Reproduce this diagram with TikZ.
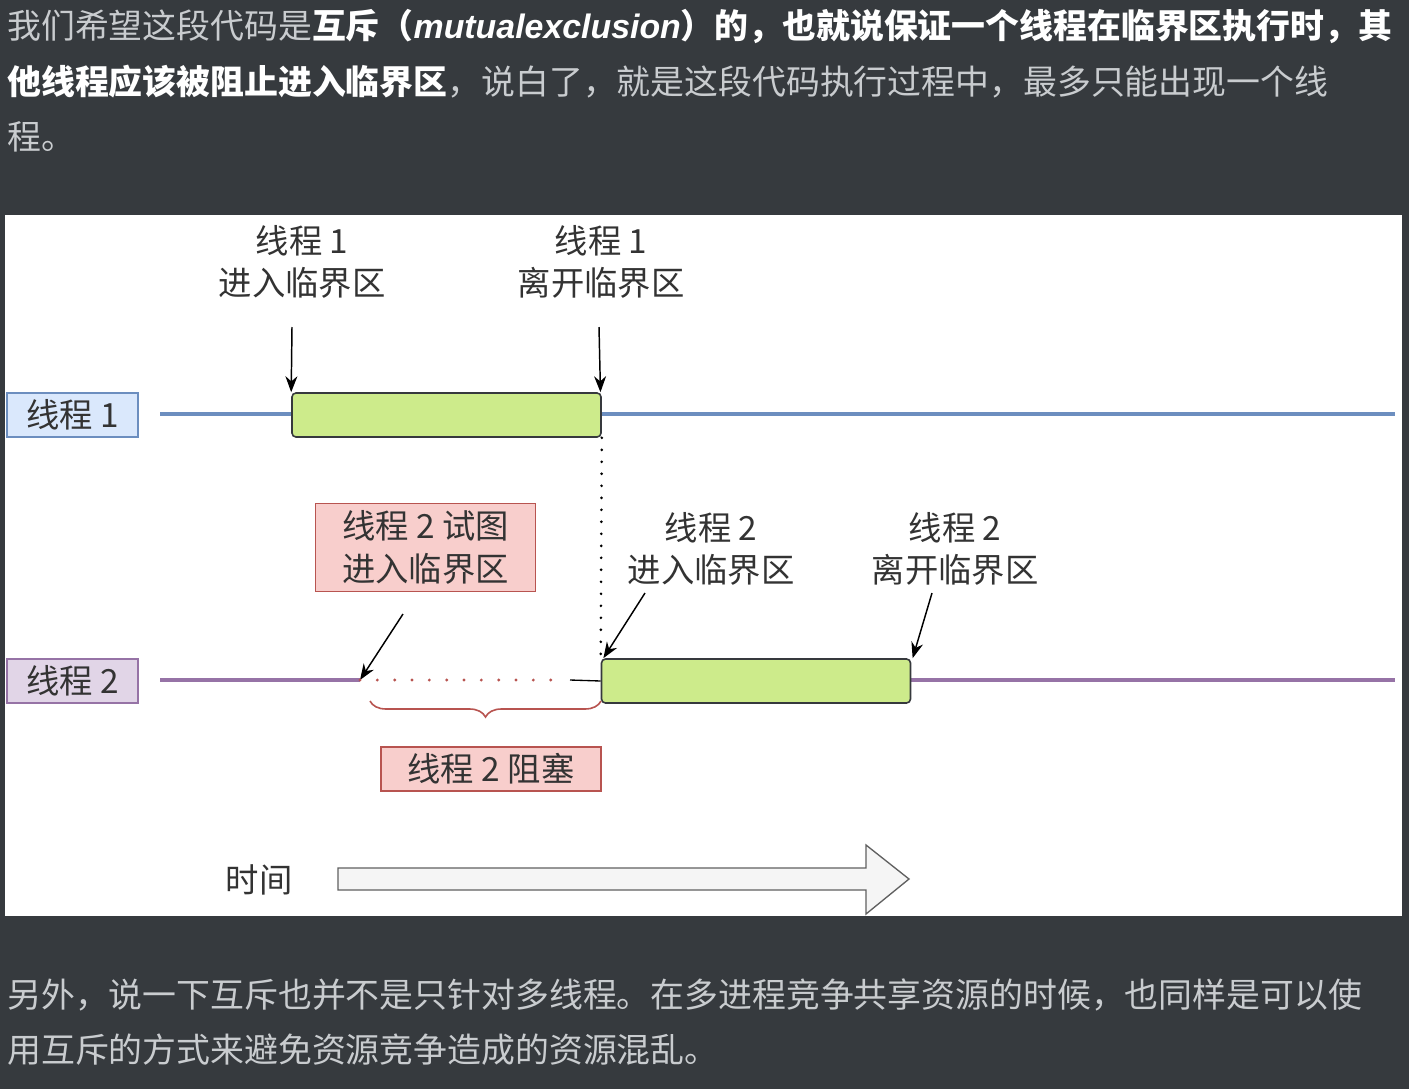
\documentclass[tikz,border=0pt]{standalone}
\usepackage{fontspec}
\setmainfont{Liberation Sans}
\newfontfamily\cjk{Noto Sans CJK SC}
\usetikzlibrary{arrows.meta,decorations.pathreplacing,shapes.arrows}
\definecolor{bgdark}{HTML}{363A3E}
\definecolor{ptext}{HTML}{C9CCCF}
\definecolor{bluef}{HTML}{DAE8FC}\definecolor{blued}{HTML}{6C8EBF}
\definecolor{purf}{HTML}{E1D5E7}\definecolor{purd}{HTML}{9673A6}
\definecolor{greenf}{HTML}{CDEB8B}\definecolor{greend}{HTML}{36393D}
\definecolor{redf}{HTML}{F8CECC}\definecolor{redd}{HTML}{B85450}
\definecolor{dtext}{HTML}{333333}
\tikzset{
 para/.style={anchor=west,inner sep=0pt,text=ptext,font=\cjk\fontsize{25.4}{30}\selectfont},
 dlab/.style={text=dtext,font=\cjk\fontsize{25}{32}\selectfont,align=center,inner sep=0pt},
 tbox/.style={draw=#1,line width=1.2pt,inner sep=0pt,text=dtext,font=\cjk\fontsize{25}{32}\selectfont,align=center},
 gbox/.style={draw=greend,fill=greenf,rounded corners=3pt,line width=1.2pt,minimum width=231.75pt,minimum height=33pt,inner sep=0pt},
 arr/.style={-{Stealth[length=12pt,width=9pt]},line width=1.1pt,black},
}
\begin{document}
\begin{tikzpicture}[x=0.75pt,y=-0.75pt]
\fill[bgdark] (0,0) rectangle (1409,1089);
\useasboundingbox (0,0) rectangle (1409,1089);
\fill[white] (5,215) rectangle (1402,916);
\node[para] (p1) at (7,27) {我们希望这段代码是\textbf{\color{white}互斥（{\rmfamily\bfseries\itshape mutualexclusion}）的，也就说保证一个线程在临界区执行时，其}};
\node[para] (p2) at (7,82) {\textbf{\color{white}他线程应该被阻止进入临界区}，说白了，就是这段代码执行过程中，最多只能出现一个线};
\node[para] (p3) at (7,137) {程。};
\node[para] (p4) at (7,995) {另外，说一下互斥也并不是只针对多线程。在多进程竞争共享资源的时候，也同样是可以使};
\node[para] (p5) at (7,1050) {用互斥的方式来避免资源竞争造成的资源混乱。};
% thread lines
\coordinate (l1s) at (160,414); \coordinate (l1e) at (1395,414);
\coordinate (l2s) at (160,680); \coordinate (l2e) at (1395,680);
\coordinate (bl) at (360,680);
\draw[blued,line width=2.3pt] (l1s) -- (l1e);
\draw[purd,line width=2.3pt] (l2s) -- (bl);
\draw[purd,line width=2.3pt] (910,680) -- (l2e);
\node[tbox=blued,fill=bluef,minimum width=98pt,minimum height=33pt] (t1) at (72.5,415) {线程 1};
\node[tbox=purd,fill=purf,minimum width=98pt,minimum height=33pt] (t2) at (72.5,681) {线程 2};
\node[gbox] (g1) at (446.5,415) {};
\node[gbox] (g2) at (756,681) {};
% labels thread 1
\node[dlab] (a1) at (302,262) {线程 1\\进入临界区};
\node[dlab] (a2) at (601,262) {线程 1\\离开临界区};
\coordinate (a1s) at (292,327); \coordinate (a2s) at (599,327);
\draw[arr] (a1s) -- (g1.north west);
\draw[arr] (a2s) -- ([xshift=-1pt]g1.north east);
\draw[black,line width=2.2pt,line cap=round,dash pattern=on 0pt off 9pt] (g1.south east) -- (g2.north west);
% thread 2 try
\node[tbox=redd,fill=redf,minimum width=165pt,minimum height=66pt] (r1) at (425.5,547.5) {线程 2 试图\\进入临界区};
\coordinate (r1a) at (403,614);
\draw[arr] (r1a) -- (bl);
\draw[redd,line width=2.4pt,line cap=round,dash pattern=on 0pt off 13pt] (bl) -- (566,680);
\draw[black,line width=1pt] (570,680) -- (g2.west);
\draw[redd,line width=1.2pt,decorate,decoration={brace,mirror,amplitude=12pt}] (370,701) -- (601,701);
\node[tbox=redd,fill=redf,minimum width=165pt,minimum height=33pt] (r2) at (491,769) {线程 2 阻塞};
% thread 2 labels
\node[dlab] (b1) at (711,549) {线程 2\\进入临界区};
\node[dlab] (b2) at (955,549) {线程 2\\离开临界区};
\coordinate (b1s) at (645,593); \coordinate (b2s) at (932,593);
\draw[arr] (b1s) -- ([xshift=2pt]g2.north west);
\draw[arr] (b2s) -- ([xshift=1pt]g2.north east);
% time
\node[dlab] (tm) at (259,880) {时间};
\draw[draw=gray!75!black,fill=gray!8,line width=1pt] (338,868) -- (866,868) -- (866,845) -- (909,879) -- (866,914) -- (866,890) -- (338,890) -- cycle;
\end{tikzpicture}
\end{document}
